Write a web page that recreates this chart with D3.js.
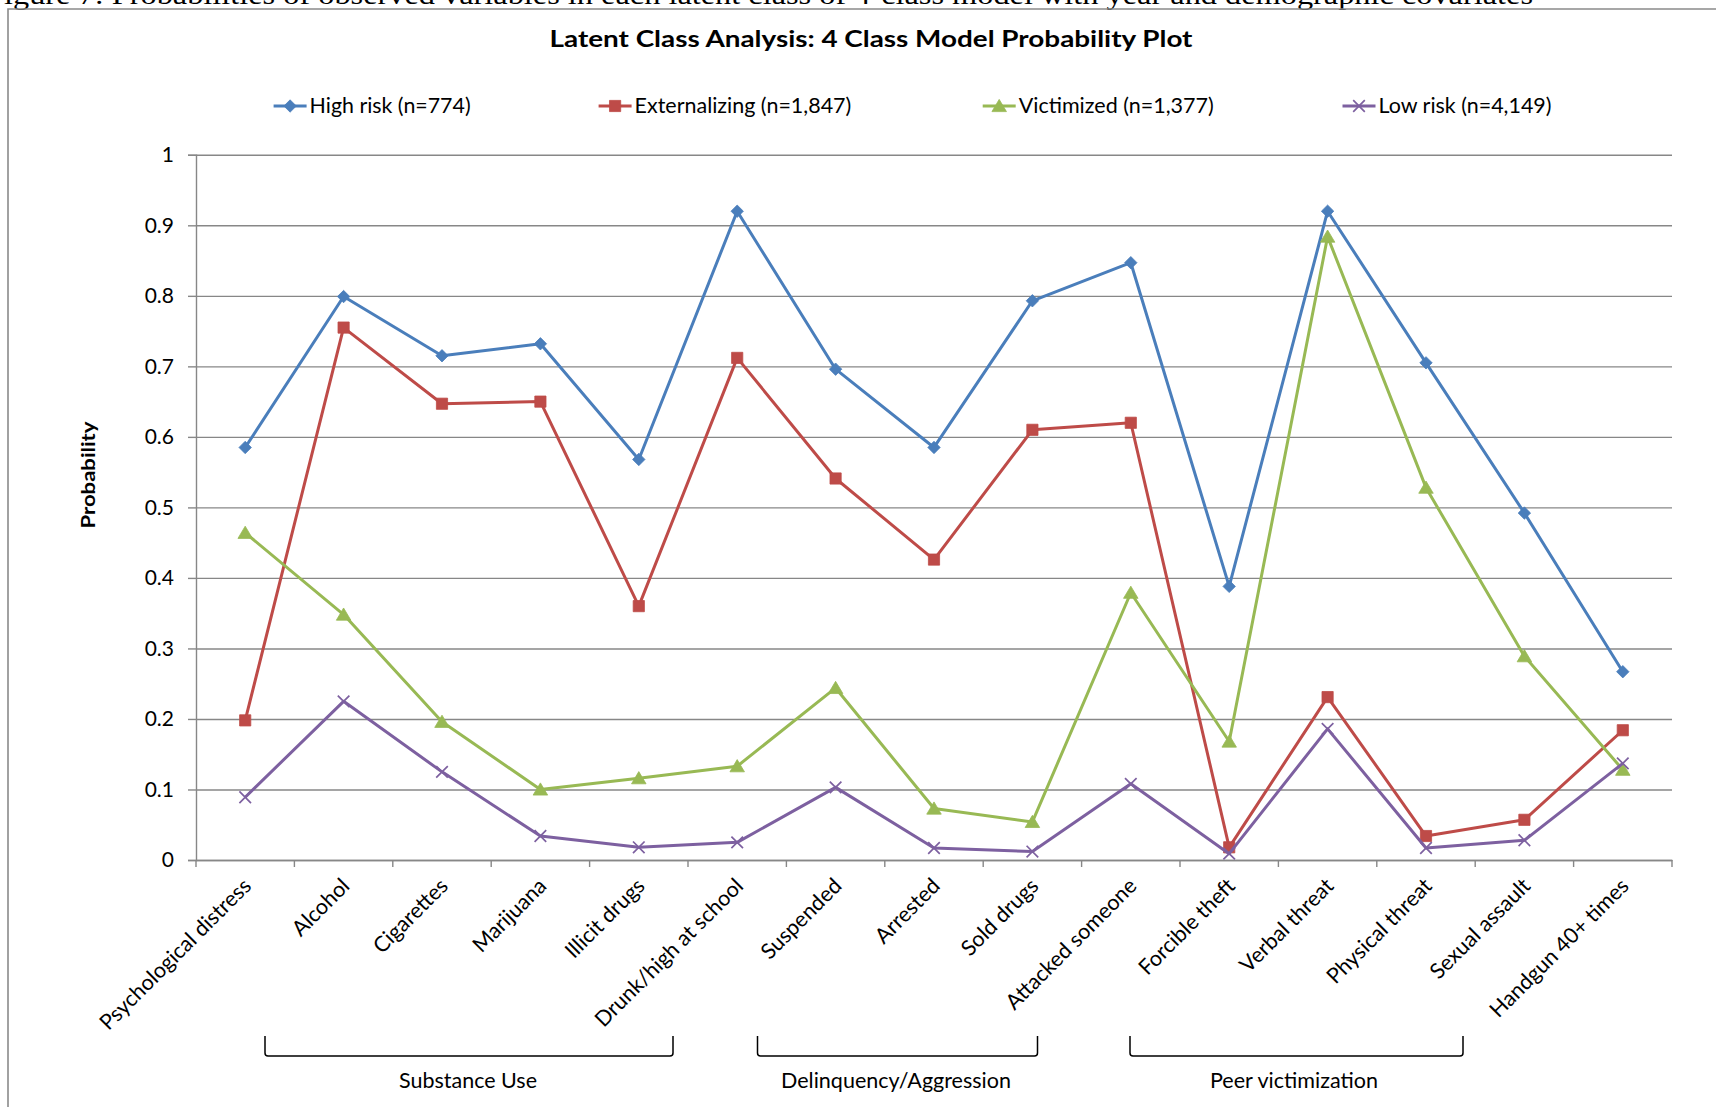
<!DOCTYPE html>
<html>
<head>
<meta charset="utf-8">
<script src="https://cdn.jsdelivr.net/npm/d3@7"></script>
<style>
  html, body { margin: 0; padding: 0; background: #fff; overflow: hidden; }
  svg { display: block; }
  text { font-family: Lato, "Open Sans", sans-serif; fill: #000; }
</style>
</head>
<body>
<svg id="chart" width="1716" height="1107"></svg>
<script>
// ---- data ----
const categories = [
  "Psychological distress", "Alcohol", "Cigarettes", "Marijuana", "Illicit drugs",
  "Drunk/high at school", "Suspended", "Arrested", "Sold drugs", "Attacked someone",
  "Forcible theft", "Verbal threat", "Physical threat", "Sexual assault", "Handgun 40+ times"
];
const highRisk      = [0.585, 0.799, 0.715, 0.732, 0.568, 0.920, 0.696, 0.585, 0.793, 0.847, 0.388, 0.920, 0.705, 0.492, 0.267];
const externalizing = [0.198, 0.755, 0.647, 0.650, 0.360, 0.712, 0.541, 0.426, 0.610, 0.620, 0.018, 0.231, 0.034, 0.057, 0.184];
const victimized    = [0.464, 0.348, 0.196, 0.100, 0.116, 0.133, 0.244, 0.073, 0.054, 0.379, 0.168, 0.884, 0.528, 0.289, 0.128];
const lowRisk       = [0.089, 0.225, 0.125, 0.034, 0.018, 0.025, 0.103, 0.017, 0.012, 0.108, 0.009, 0.186, 0.017, 0.028, 0.137];
const seriesNames   = ["High risk (n=774)", "Externalizing (n=1,847)", "Victimized (n=1,377)", "Low risk (n=4,149)"];
const yTickValues   = [0, 0.1, 0.2, 0.3, 0.4, 0.5, 0.6, 0.7, 0.8, 0.9, 1];
const yTickLabels   = ["0", "0.1", "0.2", "0.3", "0.4", "0.5", "0.6", "0.7", "0.8", "0.9", "1"];
const groupNames    = ["Substance Use", "Delinquency/Aggression", "Peer victimization"];
const chartTitle    = "Latent Class Analysis: 4 Class Model Probability Plot";
const yAxisTitle    = "Probability";
const figureCaption = "Figure 7: Probabilities of observed variables in each latent class of 4-class model with year and demographic covariates";

// ---- layout & style ----
const W = 1716, H = 1107;
const plot = { left: 196, right: 1672, top: 154.8, bottom: 860 };
const colors = ["#4A7EBB", "#BE4B48", "#98B954", "#7D60A0"];
const gridColor = "#878787";
const legendX = [273.6, 598.6, 982.7, 1342.5];       // start of each legend sample line
const legendTextLen = [161, 216.7, 195, 173];
const bracketSpan = [[265, 673], [757.5, 1037.5], [1130, 1463]];
const bracketTextLen = [138, 230, 168];

const seriesValues = [highRisk, externalizing, victimized, lowRisk];

// marker shapes
const diamond = { draw(c, r) { c.moveTo(0, -r); c.lineTo(r, 0); c.lineTo(0, r); c.lineTo(-r, 0); c.closePath(); } };
const square  = { draw(c, r) { c.rect(-r, -r, 2 * r, 2 * r); } };
const triangle = { draw(c, r) { c.moveTo(0, -r); c.lineTo(r * 1.1, r * 0.85); c.lineTo(-r * 1.1, r * 0.85); c.closePath(); } };
const cross   = { draw(c, r) { c.moveTo(-r, -r); c.lineTo(r, r); c.moveTo(r, -r); c.lineTo(-r, r); } };
const markerTypes = [diamond, square, triangle, cross];
const markerSizes = [6.2, 5.6, 6.6, 5.8];

const svg = d3.select("#chart");
svg.append("rect").attr("width", W).attr("height", H).attr("fill", "#fff");

// figure caption (runs off the top edge of the page)
svg.append("text")
  .attr("x", -14).attr("y", 4)
  .attr("textLength", 1547).attr("lengthAdjust", "spacingAndGlyphs")
  .style("font-family", "'Liberation Serif', 'Times New Roman', serif")
  .style("font-size", "28px")
  .text(figureCaption);

// chart frame (top and left edges visible)
svg.append("path")
  .attr("d", `M8,${H} L8,9 L${W},9`)
  .attr("fill", "none").attr("stroke", "#8a8a8a").attr("stroke-width", 1.6);

// scales
const x = d3.scaleBand().domain(categories).range([plot.left, plot.right]).padding(0);
const cx = c => x(c) + x.bandwidth() / 2;
const y = d3.scaleLinear().domain([0, 1]).range([plot.bottom, plot.top]);

// gridlines
const grid = svg.append("g").attr("transform", `translate(${plot.left},0)`)
  .call(d3.axisLeft(y).tickValues(yTickValues).tickSize(-(plot.right - plot.left)).tickFormat(""));
grid.select(".domain").remove();
grid.selectAll("line").attr("stroke", gridColor).attr("stroke-width", 1.4);

// y axis
const yAxis = svg.append("g").attr("transform", `translate(${plot.left},0)`)
  .call(d3.axisLeft(y).tickValues(yTickValues).tickSize(8).tickPadding(14)
    .tickFormat((d, i) => yTickLabels[i]));
yAxis.select(".domain").attr("stroke", gridColor).attr("stroke-width", 1.4);
yAxis.selectAll("line").attr("stroke", gridColor).attr("stroke-width", 1.4);
yAxis.selectAll("text").style("font-size", "21px").style("font-family", "Lato, sans-serif");

// x axis
const xAxis = svg.append("g").attr("transform", `translate(0,${plot.bottom})`)
  .call(d3.axisBottom(x).tickSize(0).tickPadding(0));
xAxis.select(".domain").attr("stroke", gridColor).attr("stroke-width", 1.4);
xAxis.selectAll("text")
  .attr("x", 0).attr("y", 0).attr("dy", "0.35em")
  .attr("text-anchor", "end")
  .attr("transform", "translate(2,22) rotate(-45)")
  .style("font-size", "21.5px").style("font-family", "Lato, sans-serif");
// tick marks between categories
const boundaries = categories.map(c => x(c)).concat([plot.right]);
svg.append("g").selectAll("line").data(boundaries).join("line")
  .attr("x1", d => d).attr("x2", d => d)
  .attr("y1", plot.bottom).attr("y2", plot.bottom + 7)
  .attr("stroke", gridColor).attr("stroke-width", 1.4);

// y axis title
svg.append("text")
  .attr("transform", `translate(88,475) rotate(-90)`)
  .attr("text-anchor", "middle").attr("dy", "0.35em")
  .attr("textLength", 107).attr("lengthAdjust", "spacingAndGlyphs")
  .style("font-size", "19px").style("font-weight", "bold")
  .text(yAxisTitle);

// chart title
svg.append("text")
  .attr("x", 871).attr("y", 47).attr("text-anchor", "middle")
  .attr("textLength", 643).attr("lengthAdjust", "spacingAndGlyphs")
  .style("font-size", "23.5px").style("font-weight", "bold")
  .text(chartTitle);

// series lines and markers
const line = d3.line().x((d, i) => cx(categories[i])).y(d => y(d));
seriesValues.forEach((vals, s) => {
  const g = svg.append("g");
  g.append("path").datum(vals)
    .attr("d", line).attr("fill", "none")
    .attr("stroke", colors[s]).attr("stroke-width", 3).attr("stroke-linejoin", "round");
  const sym = d3.symbol().type(markerTypes[s]).size(markerSizes[s]);
  g.selectAll("path.m").data(vals).join("path").attr("class", "m")
    .attr("transform", (d, i) => `translate(${cx(categories[i])},${y(d)})`)
    .attr("d", sym)
    .attr("fill", s === 3 ? "none" : colors[s])
    .attr("stroke", colors[s]).attr("stroke-width", s === 3 ? 1.7 : 0.8);
});

// legend
const legendY = 106;
seriesNames.forEach((name, s) => {
  const g = svg.append("g").attr("transform", `translate(${legendX[s]},${legendY})`);
  g.append("line").attr("x1", 0).attr("x2", 33).attr("y1", 0).attr("y2", 0)
    .attr("stroke", colors[s]).attr("stroke-width", 3);
  g.append("path").attr("transform", "translate(16.5,0)")
    .attr("d", d3.symbol().type(markerTypes[s]).size(markerSizes[s]))
    .attr("fill", s === 3 ? "none" : colors[s])
    .attr("stroke", colors[s]).attr("stroke-width", s === 3 ? 1.7 : 0.8);
  g.append("text").attr("x", 36).attr("y", 0).attr("dy", "0.36em")
    .attr("textLength", legendTextLen[s]).attr("lengthAdjust", "spacingAndGlyphs")
    .style("font-size", "20.5px")
    .text(name);
});

// group brackets under the category labels
const bTop = 1036, bBot = 1056, rad = 3;
groupNames.forEach((name, i) => {
  const [l, r] = bracketSpan[i];
  svg.append("path")
    .attr("d", `M${l},${bTop} L${l},${bBot - rad} Q${l},${bBot} ${l + rad},${bBot} L${r - rad},${bBot} Q${r},${bBot} ${r},${bBot - rad} L${r},${bTop}`)
    .attr("fill", "none").attr("stroke", "#000").attr("stroke-width", 1.5);
  svg.append("text")
    .attr("x", (l + r) / 2 + (i === 0 ? -1 : (i === 1 ? -1.5 : -2.5))).attr("y", 1081).attr("dy", "0.35em")
    .attr("text-anchor", "middle")
    .attr("textLength", bracketTextLen[i]).attr("lengthAdjust", "spacingAndGlyphs")
    .style("font-size", "20.5px")
    .text(name);
});
</script>
</body>
</html>
